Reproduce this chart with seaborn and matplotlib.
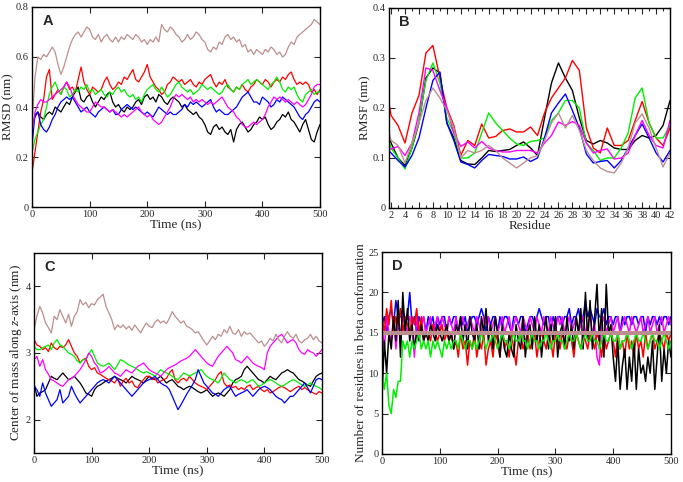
import numpy as np
import matplotlib
matplotlib.use("Agg")
import matplotlib.pyplot as plt
from matplotlib.ticker import MultipleLocator
import seaborn as sns

#%%
# Data

# A: RMSD, one value every 5 ns (0..500)
rmsd_black = [0.32,0.36,0.38,0.36,0.35,0.37,0.38,0.37,0.40,0.39,
              0.38,0.40,0.42,0.41,0.44,0.46,0.48,0.43,0.42,0.44,
              0.45,0.42,0.40,0.42,0.44,0.43,0.45,0.46,0.42,0.40,
              0.41,0.39,0.38,0.40,0.39,0.40,0.42,0.43,0.41,0.44,
              0.45,0.43,0.44,0.42,0.45,0.44,0.42,0.41,0.43,0.44,
              0.43,0.42,0.40,0.41,0.39,0.38,0.37,0.38,0.36,0.35,
              0.33,0.30,0.29,0.32,0.33,0.31,0.32,0.30,0.29,0.31,
              0.26,0.31,0.33,0.34,0.32,0.30,0.31,0.33,0.34,0.36,
              0.35,0.36,0.33,0.31,0.32,0.34,0.35,0.37,0.36,0.38,
              0.35,0.34,0.32,0.30,0.33,0.35,0.31,0.27,0.26,0.30,
              0.33]
rmsd_red = [0.14,0.22,0.30,0.38,0.43,0.52,0.55,0.43,0.45,0.47,
            0.45,0.48,0.50,0.47,0.48,0.46,0.51,0.56,0.50,0.47,
            0.45,0.48,0.47,0.46,0.47,0.50,0.52,0.49,0.47,0.48,
            0.50,0.49,0.52,0.51,0.53,0.55,0.51,0.50,0.52,0.54,
            0.57,0.52,0.50,0.48,0.47,0.45,0.46,0.49,0.50,0.52,
            0.51,0.50,0.51,0.49,0.50,0.51,0.49,0.48,0.50,0.49,
            0.51,0.52,0.53,0.50,0.48,0.50,0.49,0.51,0.48,0.47,
            0.46,0.48,0.47,0.49,0.47,0.46,0.48,0.49,0.51,0.50,
            0.49,0.51,0.50,0.48,0.50,0.51,0.50,0.52,0.51,0.53,
            0.54,0.51,0.49,0.50,0.49,0.50,0.49,0.46,0.47,0.45,
            0.47]
rmsd_green = [0.22,0.27,0.30,0.33,0.35,0.40,0.45,0.48,0.50,0.47,
              0.45,0.48,0.47,0.44,0.45,0.47,0.46,0.48,0.47,0.49,
              0.46,0.47,0.45,0.46,0.47,0.45,0.44,0.46,0.45,0.47,
              0.48,0.46,0.47,0.45,0.44,0.45,0.43,0.44,0.42,0.45,
              0.47,0.48,0.49,0.47,0.46,0.48,0.46,0.44,0.45,0.47,
              0.49,0.50,0.48,0.47,0.46,0.47,0.45,0.46,0.47,0.49,
              0.48,0.47,0.48,0.47,0.46,0.45,0.46,0.48,0.49,0.47,
              0.46,0.48,0.47,0.49,0.50,0.51,0.49,0.50,0.51,0.50,
              0.49,0.48,0.47,0.49,0.50,0.52,0.50,0.47,0.46,0.48,
              0.47,0.48,0.45,0.43,0.42,0.45,0.46,0.47,0.45,0.46,
              0.46]
rmsd_blue = [0.25,0.37,0.38,0.33,0.31,0.30,0.32,0.35,0.37,0.40,
             0.42,0.43,0.44,0.43,0.44,0.42,0.40,0.38,0.39,0.40,
             0.38,0.37,0.36,0.38,0.39,0.40,0.39,0.38,0.39,0.37,
             0.37,0.39,0.40,0.41,0.40,0.39,0.40,0.39,0.38,0.37,
             0.38,0.37,0.36,0.38,0.40,0.39,0.38,0.37,0.38,0.37,
             0.37,0.38,0.39,0.41,0.40,0.42,0.41,0.42,0.41,0.40,
             0.41,0.42,0.43,0.40,0.38,0.39,0.38,0.37,0.37,0.38,
             0.39,0.40,0.42,0.44,0.45,0.46,0.44,0.42,0.42,0.41,
             0.44,0.43,0.42,0.40,0.41,0.43,0.42,0.44,0.43,0.42,
             0.41,0.40,0.38,0.36,0.35,0.37,0.38,0.40,0.42,0.43,
             0.42]
rmsd_magenta = [0.30,0.38,0.41,0.43,0.42,0.42,0.43,0.44,0.45,0.46,
                0.47,0.48,0.50,0.48,0.45,0.43,0.41,0.40,0.39,0.38,
                0.38,0.40,0.42,0.41,0.40,0.40,0.39,0.38,0.39,0.38,
                0.37,0.36,0.37,0.36,0.37,0.38,0.39,0.40,0.38,0.37,
                0.36,0.37,0.35,0.34,0.33,0.34,0.36,0.38,0.40,0.43,
                0.45,0.44,0.45,0.44,0.43,0.44,0.42,0.43,0.42,0.43,
                0.42,0.41,0.42,0.41,0.42,0.43,0.44,0.42,0.40,0.39,
                0.38,0.36,0.35,0.33,0.32,0.32,0.33,0.34,0.33,0.34,
                0.35,0.37,0.40,0.42,0.44,0.43,0.44,0.43,0.42,0.43,
                0.42,0.41,0.42,0.41,0.40,0.41,0.43,0.45,0.48,0.49,
                0.49]
rmsd_brown = [0.33,0.52,0.60,0.59,0.61,0.60,0.62,0.64,0.62,0.57,
              0.53,0.56,0.60,0.64,0.67,0.69,0.70,0.68,0.70,0.72,
              0.71,0.68,0.67,0.69,0.66,0.68,0.69,0.67,0.66,0.68,
              0.66,0.68,0.67,0.69,0.68,0.67,0.69,0.68,0.66,0.67,
              0.65,0.67,0.66,0.68,0.66,0.73,0.71,0.70,0.72,0.71,
              0.69,0.68,0.66,0.67,0.69,0.67,0.68,0.70,0.69,0.67,
              0.66,0.63,0.62,0.64,0.63,0.66,0.65,0.68,0.69,0.67,
              0.68,0.66,0.67,0.64,0.65,0.62,0.63,0.61,0.63,0.62,
              0.61,0.63,0.62,0.64,0.63,0.61,0.62,0.60,0.61,0.64,
              0.66,0.65,0.68,0.69,0.70,0.71,0.72,0.73,0.75,0.74,
              0.73]

# B: RMSF per residue 1..42
residues = list(range(1, 43))
rmsf_black = [0.17,0.13,0.10,0.085,0.12,0.17,0.26,0.28,0.27,0.17,
              0.14,0.095,0.088,0.087,0.10,0.115,0.113,0.115,0.117,0.125,
              0.132,0.12,0.105,0.18,0.25,0.29,0.26,0.235,0.18,0.135,
              0.128,0.135,0.13,0.12,0.117,0.117,0.135,0.145,0.14,0.145,
              0.165,0.215]
rmsf_red = [0.27,0.185,0.165,0.13,0.19,0.225,0.31,0.325,0.26,0.20,
            0.165,0.105,0.135,0.125,0.168,0.14,0.143,0.155,0.158,0.152,
            0.152,0.162,0.145,0.19,0.22,0.24,0.26,0.295,0.275,0.16,
            0.12,0.11,0.16,0.125,0.125,0.135,0.175,0.213,0.17,0.14,
            0.125,0.16]
rmsf_green = [0.17,0.12,0.10,0.078,0.12,0.175,0.255,0.29,0.25,0.18,
              0.15,0.10,0.10,0.11,0.15,0.19,0.17,0.155,0.14,0.128,
              0.125,0.133,0.135,0.14,0.175,0.19,0.215,0.215,0.20,0.13,
              0.115,0.095,0.10,0.10,0.12,0.15,0.22,0.24,0.17,0.14,
              0.14,0.165]
rmsf_blue = [0.125,0.11,0.095,0.082,0.105,0.14,0.20,0.255,0.272,0.17,
             0.135,0.092,0.087,0.08,0.095,0.107,0.105,0.103,0.098,0.098,
             0.102,0.093,0.10,0.14,0.19,0.21,0.228,0.195,0.16,0.108,
             0.09,0.093,0.095,0.08,0.095,0.12,0.145,0.168,0.14,0.11,
             0.092,0.115]
rmsf_magenta = [0.12,0.118,0.123,0.105,0.13,0.19,0.28,0.275,0.235,0.20,
                0.15,0.123,0.132,0.12,0.133,0.12,0.115,0.112,0.112,0.115,
                0.115,0.115,0.11,0.13,0.145,0.172,0.165,0.173,0.165,0.13,
                0.11,0.115,0.118,0.098,0.10,0.11,0.145,0.175,0.145,0.125,
                0.12,0.175]
rmsf_brown = [0.19,0.135,0.125,0.09,0.13,0.17,0.215,0.24,0.22,0.195,
              0.16,0.10,0.115,0.11,0.115,0.125,0.115,0.10,0.09,0.08,
              0.09,0.10,0.105,0.135,0.17,0.19,0.16,0.185,0.155,0.115,
              0.095,0.08,0.073,0.07,0.09,0.12,0.17,0.188,0.16,0.12,
              0.082,0.11]

# C: centre of mass along z, one value every 5 ns (0..500)
com_black = [2.55,2.35,2.40,2.42,2.45,2.55,2.65,2.62,2.60,2.65,
             2.70,2.65,2.60,2.62,2.65,2.60,2.55,2.48,2.40,2.38,
             2.35,2.45,2.50,2.52,2.55,2.58,2.60,2.62,2.65,2.62,
             2.60,2.58,2.55,2.60,2.65,2.62,2.60,2.58,2.55,2.60,
             2.65,2.62,2.60,2.62,2.65,2.60,2.55,2.58,2.60,2.55,
             2.50,2.48,2.45,2.48,2.50,2.48,2.45,2.42,2.40,2.42,
             2.45,2.40,2.35,2.38,2.40,2.38,2.35,2.40,2.45,2.55,
             2.60,2.62,2.65,2.75,2.80,2.75,2.70,2.65,2.60,2.58,
             2.55,2.60,2.65,2.62,2.60,2.65,2.70,2.72,2.75,2.72,
             2.70,2.65,2.60,2.58,2.55,2.52,2.50,2.58,2.65,2.68,
             2.70]
com_red = [3.20,3.12,3.10,3.05,3.08,3.02,3.15,3.08,3.05,3.10,
           3.08,3.12,3.20,3.10,3.00,2.95,2.85,2.90,2.92,2.80,
           2.75,2.78,2.70,2.68,2.65,2.62,2.60,2.58,2.55,2.62,
           2.50,2.58,2.62,2.55,2.58,2.50,2.48,2.55,2.60,2.65,
           2.65,2.60,2.62,2.55,2.58,2.60,2.62,2.70,2.75,2.60,
           2.55,2.60,2.62,2.58,2.65,2.60,2.55,2.52,2.50,2.48,
           2.45,2.50,2.55,2.60,2.68,2.72,2.55,2.50,2.52,2.48,
           2.50,2.45,2.48,2.45,2.50,2.52,2.45,2.48,2.50,2.45,
           2.42,2.45,2.40,2.42,2.45,2.48,2.50,2.48,2.45,2.42,
           2.45,2.48,2.50,2.45,2.48,2.45,2.42,2.40,2.38,2.42,
           2.40]
com_green = [3.10,3.05,3.05,3.08,3.10,3.12,3.05,3.15,3.20,3.12,
             3.10,3.05,3.00,2.98,2.95,2.88,2.85,2.90,2.90,2.98,
             3.05,2.95,2.85,2.82,2.80,2.82,2.85,2.80,2.75,2.82,
             2.90,2.88,2.85,2.82,2.80,2.78,2.75,2.72,2.70,2.72,
             2.70,2.68,2.65,2.70,2.75,2.72,2.70,2.68,2.65,2.62,
             2.60,2.65,2.70,2.68,2.65,2.68,2.70,2.72,2.75,2.70,
             2.65,2.62,2.60,2.58,2.55,2.62,2.70,2.65,2.60,2.58,
             2.55,2.58,2.60,2.58,2.55,2.58,2.60,2.55,2.50,2.52,
             2.55,2.58,2.60,2.58,2.55,2.52,2.50,2.52,2.55,2.58,
             2.60,2.58,2.55,2.52,2.50,2.52,2.55,2.52,2.50,2.48,
             2.45]
com_blue = [2.50,2.45,2.35,2.55,2.40,2.30,2.20,2.25,2.30,2.45,
            2.25,2.30,2.35,2.50,2.40,2.32,2.25,2.30,2.35,2.40,
            2.45,2.50,2.55,2.58,2.60,2.58,2.55,2.60,2.65,2.60,
            2.55,2.50,2.45,2.40,2.35,2.40,2.45,2.50,2.55,2.58,
            2.60,2.62,2.65,2.60,2.55,2.52,2.50,2.45,2.35,2.25,
            2.15,2.22,2.30,2.38,2.45,2.52,2.60,2.75,2.65,2.55,
            2.50,2.45,2.40,2.38,2.35,2.40,2.45,2.48,2.50,2.42,
            2.35,2.38,2.40,2.42,2.45,2.40,2.35,2.40,2.45,2.48,
            2.50,2.48,2.45,2.40,2.35,2.32,2.30,2.25,2.30,2.35,
            2.35,2.40,2.45,2.50,2.55,2.48,2.40,2.50,2.60,2.62,
            2.60]
com_magenta = [2.90,2.95,2.80,2.90,2.75,2.68,2.60,2.58,2.55,2.52,
               2.50,2.55,2.60,2.62,2.65,2.70,2.75,2.82,2.90,3.00,
               2.95,2.85,2.80,2.70,2.72,2.75,2.80,2.75,2.70,2.68,
               2.65,2.70,2.75,2.72,2.70,2.75,2.80,2.82,2.85,2.80,
               2.75,2.72,2.70,2.68,2.65,2.70,2.75,2.78,2.80,2.82,
               2.85,2.88,2.90,2.92,2.95,3.00,3.05,3.00,2.95,2.90,
               2.85,2.82,2.80,2.88,2.95,3.00,3.05,3.10,3.05,3.00,
               2.90,2.88,2.85,2.90,2.95,2.90,2.85,2.82,2.80,2.78,
               2.75,3.00,3.10,3.15,3.20,3.25,3.28,3.22,3.15,3.18,
               3.20,3.15,3.05,3.00,2.98,3.05,3.02,3.00,2.95,3.00,
               3.05]
com_brown = [3.35,3.55,3.70,3.60,3.45,3.38,3.30,3.55,3.50,3.65,
             3.55,3.45,3.58,3.40,3.55,3.62,3.80,3.72,3.76,3.68,
             3.74,3.72,3.80,3.84,3.88,3.70,3.60,3.50,3.35,3.42,
             3.38,3.42,3.36,3.40,3.34,3.42,3.36,3.30,3.38,3.45,
             3.40,3.38,3.46,3.50,3.45,3.48,3.44,3.52,3.62,3.55,
             3.50,3.45,3.48,3.40,3.38,3.35,3.30,3.32,3.25,3.18,
             3.12,3.18,3.25,3.20,3.28,3.25,3.35,3.30,3.40,3.30,
             3.28,3.35,3.25,3.32,3.28,3.30,3.25,3.20,3.15,3.18,
             3.10,3.15,3.22,3.18,3.28,3.20,3.15,3.25,3.32,3.25,
             3.22,3.28,3.18,3.15,3.20,3.22,3.28,3.20,3.25,3.18,
             3.15]

# D: residues in beta conformation, one value every 4 ns (0..500)
beta_black = [7,14,10,15,13,17,14,19,12,20,
              15,18,14,16,13,15,14,16,14,15,
              14,16,15,14,16,15,14,15,16,14,
              15,13,16,15,17,14,16,13,17,15,
              14,16,13,17,15,18,14,16,13,17,
              15,12,16,13,12,15,13,12,16,14,
              13,17,12,15,16,13,17,14,16,12,
              15,17,13,16,14,17,12,15,16,13,
              17,14,16,13,17,15,18,13,20,14,
              19,13,17,21,14,18,12,21,15,16,
              12,9,14,8,11,13,8,12,9,14,
              8,13,10,11,9,12,10,14,8,12,
              16,9,13,10,14,12]
beta_red = [17,15,18,16,19,15,17,16,18,15,
            17,16,15,17,16,18,15,17,14,15,
            15,14,16,15,14,15,16,14,15,14,
            15,13,14,12,15,13,14,11,14,13,
            15,12,14,13,15,11,13,14,12,15,
            14,12,15,13,14,12,15,13,11,14,
            15,13,14,15,13,14,15,12,14,15,
            14,13,15,14,12,15,14,13,15,14,
            13,15,14,12,15,14,13,15,14,13,
            15,14,13,15,14,12,15,13,14,15,
            14,12,15,13,14,12,15,13,14,12,
            15,13,14,12,15,13,14,15,13,14,
            15,14,13,15,14,15]
beta_green = [10,8,10,6,5,8,7,9,9,14,
              13,14,12,14,13,14,15,13,14,13,
              14,12,14,13,14,13,12,14,13,14,
              13,14,14,13,15,14,13,14,14,13,
              14,13,14,15,14,13,14,14,15,14,
              13,14,15,14,14,13,14,15,14,14,
              15,14,14,13,14,15,14,14,13,14,
              14,15,14,13,14,14,15,14,14,13,
              14,15,14,14,15,14,13,14,15,14,
              14,15,14,14,13,14,15,14,14,15,
              14,14,15,13,14,14,15,14,13,14,
              15,14,14,15,14,13,14,15,14,14,
              13,14,15,14,13,14]
beta_blue = [16,17,15,17,18,16,19,17,17,18,
             16,17,20,16,17,15,17,16,17,15,
             17,16,17,15,17,16,17,17,15,17,
             16,17,17,15,17,16,17,15,16,17,
             17,16,17,18,17,15,17,16,17,17,
             15,17,16,17,17,16,15,17,17,16,
             17,17,15,16,17,17,16,17,18,17,
             16,17,17,15,17,16,17,17,16,17,
             17,18,16,17,17,18,16,17,19,17,
             18,17,16,18,17,17,18,16,17,17,
             16,17,17,15,17,16,17,17,16,17,
             17,16,17,17,15,17,16,17,17,16,
             17,16,17,17,16,17]
beta_magenta = [16,13,17,15,14,17,13,16,15,17,
                16,15,17,16,12,17,15,16,17,15,
                16,17,15,16,17,15,17,16,15,17,
                16,15,17,15,16,17,15,16,17,16,
                15,17,16,15,17,16,17,15,16,17,
                15,16,17,15,16,17,15,16,17,16,
                15,17,16,15,17,16,15,17,16,15,
                17,16,15,17,16,15,17,16,17,15,
                16,17,15,16,17,15,16,17,15,16,
                17,15,16,12,11,16,17,15,16,17,
                15,16,17,15,16,17,16,15,17,16,
                15,16,17,15,16,17,15,16,17,15,
                16,17,15,16,17,16]
beta_brown = [15,15,15,15,15,15,15,15,15,15,15]

colors = {'black': 'black', 'red': '#ff0000', 'green': '#00ee00',
          'blue': '#0000ff', 'magenta': '#ff00ff', 'brown': '#bc8f8f'}

#%%
sns.set_style("ticks")
plt.rcParams['font.family'] = ['Liberation Serif', 'DejaVu Serif']
plt.rcParams['mathtext.fontset'] = 'custom'
plt.rcParams['mathtext.rm'] = 'Liberation Serif'
plt.rcParams['mathtext.it'] = 'Liberation Serif:italic'

fig = plt.figure(figsize=(6.83, 4.82), dpi=100)
axA = fig.add_axes([0.047, 0.5705, 0.4215, 0.415])
axB = fig.add_axes([0.5695, 0.5685, 0.4115, 0.415])
axC = fig.add_axes([0.0498, 0.0602, 0.4216, 0.415])
axD = fig.add_axes([0.5593, 0.0581, 0.4231, 0.419])


def draw(ax, series, lw=0.9):
    for vals, col in series:
        x = np.linspace(0, 500, len(vals))
        sns.lineplot(x=x, y=vals, ax=ax, color=col, lw=lw, estimator=None, sort=False)


def style(ax, letter, xlab, ylab):
    ax.set_xlabel(xlab, fontsize=9.5, labelpad=0)
    ax.set_ylabel(ylab, fontsize=9.5, labelpad=1)
    ax.tick_params(which='both', direction='in', top=True, right=True, labelsize=7.5, pad=2.5)
    ax.tick_params(which='major', length=4, width=0.8)
    ax.tick_params(which='minor', length=2, width=0.8)
    for s in ax.spines.values():
        s.set_linewidth(1.0)
        s.set_color('black')
    ax.text(0.035, 0.965, letter, transform=ax.transAxes, ha='left', va='top',
            fontsize=10.5, fontweight='bold', family='Liberation Sans')


# A
draw(axA, [(rmsd_black, colors['black']), (rmsd_red, colors['red']), (rmsd_green, colors['green']),
           (rmsd_blue, colors['blue']), (rmsd_magenta, colors['magenta']), (rmsd_brown, colors['brown'])])
axA.set_xlim(0, 500)
axA.set_ylim(0, 0.8)
axA.set_xticks([0, 100, 200, 300, 400, 500])
axA.set_yticks([0, 0.2, 0.4, 0.6, 0.8])
axA.set_yticklabels(['0', '0.2', '0.4', '0.6', '0.8'])
style(axA, 'A', 'Time (ns)', 'RMSD (nm)')

# B
for vals, col in [(rmsf_black, colors['black']), (rmsf_red, colors['red']), (rmsf_green, colors['green']),
                  (rmsf_blue, colors['blue']), (rmsf_magenta, colors['magenta']), (rmsf_brown, colors['brown'])]:
    sns.lineplot(x=residues, y=vals, ax=axB, color=col, lw=1.0, estimator=None, sort=False)
axB.set_xlim(1.7, 42)
axB.set_ylim(0, 0.4)
axB.set_xticks(list(range(2, 43, 2)))
axB.xaxis.set_minor_locator(MultipleLocator(1))
axB.set_yticks([0, 0.1, 0.2, 0.3, 0.4])
axB.set_yticklabels(['0', '0.1', '0.2', '0.3', '0.4'])
style(axB, 'B', 'Residue', 'RMSF (nm)')

# C
draw(axC, [(com_black, colors['black']), (com_red, colors['red']), (com_green, colors['green']),
           (com_blue, colors['blue']), (com_magenta, colors['magenta']), (com_brown, colors['brown'])])
axC.set_xlim(0, 500)
axC.set_ylim(1.5, 4.5)
axC.set_xticks([0, 100, 200, 300, 400, 500])
axC.set_yticks([2, 3, 4])
style(axC, 'C', 'Time (ns)', 'Center of mass along $z$-axis (nm)')

# D
draw(axD, [(beta_blue, colors['blue']), (beta_magenta, colors['magenta']), (beta_red, colors['red']),
           (beta_black, colors['black']), (beta_green, colors['green'])], lw=1.1)
draw(axD, [(beta_brown, colors['brown'])], lw=3)
axD.set_xlim(0, 500)
axD.set_ylim(0, 25)
axD.set_xticks([0, 100, 200, 300, 400, 500])
axD.set_yticks([0, 5, 10, 15, 20, 25])
style(axD, 'D', 'Time (ns)', 'Number of residues in beta conformation')

fig.savefig('out.png', dpi=100)
